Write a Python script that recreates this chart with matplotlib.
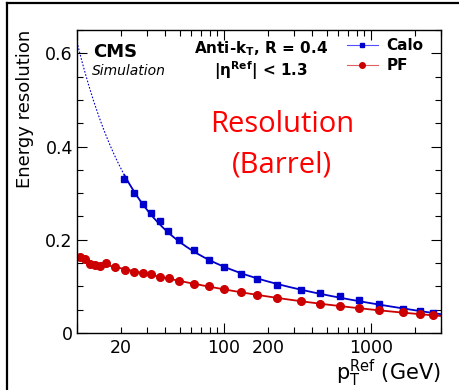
import numpy as np
import matplotlib
matplotlib.use("Agg")
import matplotlib.pyplot as plt
from matplotlib.lines import Line2D

# Jet energy resolution vs reference pT, barrel (|eta| < 1.3), anti-kT R = 0.4
calo_pt = np.array([21, 24.5, 28, 31.7, 36.7, 41.6, 49.6, 62.5, 79, 100.5, 130.5,
                    167.6, 230, 335, 450, 615, 832, 1133, 1643, 2155, 2653])
calo_res = np.array([0.3295, 0.3008, 0.2772, 0.2566, 0.2394, 0.218, 0.1987, 0.178,
                     0.157, 0.1415, 0.1265, 0.115, 0.102, 0.0915, 0.0857, 0.0787,
                     0.070, 0.0615, 0.0514, 0.0465, 0.0435])

pf_pt = np.array([10.4, 11.4, 12.3, 13.3, 14.3, 15.8, 18.2, 21.2, 24.5, 28, 31.9,
                  36.9, 42, 49.6, 62.5, 78.7, 100.5, 130.5, 167.6, 230, 335, 450,
                  615, 832, 1133, 1643, 2155, 2653])
pf_res = np.array([0.1636, 0.158, 0.1486, 0.1458, 0.1443, 0.1494, 0.1421, 0.1357,
                   0.1314, 0.1286, 0.1265, 0.120, 0.1179, 0.1121, 0.1057, 0.1014,
                   0.095, 0.0885, 0.0815, 0.0744, 0.068, 0.0622, 0.0572, 0.053,
                   0.0487, 0.0444, 0.0401, 0.038])

x_ticks_major = [10, 100, 1000]
x_labels_major = ["", "100", "1000"]
x_ticks_minor = [20, 30, 40, 50, 60, 70, 80, 90, 200, 300, 400, 500, 600, 700,
                 800, 900, 2000, 3000]
x_labels_minor = ["20", "", "", "", "", "", "", "", "200", "", "", "", "", "",
                  "", "", "", ""]
y_ticks = [0, 0.2, 0.4, 0.6]
y_labels = ["0", "0.2", "0.4", "0.6"]

CALO = "#0000cc"
PF = "#cc0000"


def fit_resolution(x, y):
    """Fit sigma^2 = a/x^2 + b*x^(m-1) + c (scan m, linear LSQ for a, b, c)."""
    best = None
    for m in np.linspace(-1.0, 1.5, 501):
        A = np.column_stack([1.0 / x**2, x**(m - 1.0), np.ones_like(x)])
        w = 1.0 / y**2
        coef, *_ = np.linalg.lstsq(A * w[:, None], y**2 * w, rcond=None)
        model = A @ coef
        if np.any(model <= 0):
            continue
        cost = np.sum(((np.sqrt(model) - y) / y) ** 2)
        if best is None or cost < best[0]:
            best = (cost, m, coef)
    _, m, (a, b, c) = best
    return lambda t: np.sqrt(np.clip(a / t**2 + b * t**(m - 1.0) + c, 0, None))


fig = plt.figure(figsize=(4.6, 3.9), dpi=100)
ax = fig.add_axes([77 / 460, 57 / 390, 364 / 460, 303 / 390])
ax.set_xscale("log")
ax.set_xlim(10, 3000)
ax.set_ylim(0, 0.65)

calo_fit = fit_resolution(calo_pt, calo_res)
pf_fit = fit_resolution(pf_pt, pf_res)

x0, x1 = ax.get_xlim()
t_low = np.geomspace(x0, calo_pt[0], 60)
t_high = np.geomspace(calo_pt[0], x1 * 0.985, 200)
t_all = np.geomspace(x0, x1 * 0.985, 300)

ax.plot(t_low, calo_fit(t_low), color=CALO, lw=0.8, ls=(0, (1.5, 1.5)))
ax.plot(t_high, calo_fit(t_high), color=CALO, lw=1.3)
ax.plot(t_all, pf_fit(t_all), color=PF, lw=1.3)

ax.plot(calo_pt, calo_res, ls="none", marker="s", ms=5, color=CALO, mec=CALO)
ax.plot(pf_pt, pf_res, ls="none", marker="o", ms=5.5, color=PF, mec=PF)

# axes styling
for s in ax.spines.values():
    s.set_linewidth(1.0)
ax.set_xticks(x_ticks_major, x_labels_major)
ax.set_xticks(x_ticks_minor, x_labels_minor, minor=True)
ax.set_yticks(y_ticks, y_labels)
ax.set_yticks(np.arange(0, 0.651, 0.05), minor=True)
ax.tick_params(which="both", direction="in", top=True, right=True,
               labelsize=12.5, width=0.8)
ax.tick_params(which="major", length=7)
ax.tick_params(which="minor", length=4)
ax.tick_params(axis="x", which="both", pad=4)
ax.tick_params(axis="y", which="both", pad=3)

ax.text(-0.143, 1.0, "Energy resolution", transform=ax.transAxes, rotation=90,
        ha="center", va="top", fontsize=13)
ax.text(1.0, -0.155, r"$\mathregular{p_T^{Ref}}$ (GeV)", transform=ax.transAxes,
        ha="right", va="baseline", fontsize=15)

ax.text(0.044, 0.911, "CMS", transform=ax.transAxes, fontsize=13,
        fontweight="bold", va="baseline")
ax.text(0.041, 0.851, "Simulation", transform=ax.transAxes, fontsize=10,
        style="italic", va="baseline")
ax.text(0.5055, 0.924, r"Anti-k$_{\mathbf{T}}$, R = 0.4", transform=ax.transAxes,
        fontsize=11, fontweight="bold", ha="center", va="baseline")
ax.text(0.5055, 0.848, r"|η$^{\mathbf{Ref}}$| < 1.3", transform=ax.transAxes,
        fontsize=11, fontweight="bold", ha="center", va="baseline")

ax.text(0.563, 0.663, "Resolution", transform=ax.transAxes, fontsize=21,
        family="Open Sans", color="#ff0000", ha="center", va="baseline")
ax.text(0.563, 0.531, "(Barrel)", transform=ax.transAxes, fontsize=21,
        family="Open Sans", color="#ff0000", ha="center", va="baseline")

handles = [
    Line2D([], [], color="#5050ff", lw=0.8, marker="s", ms=3.5,
           mfc="#0000cc", mec="#0000cc"),
    Line2D([], [], color="#e06060", lw=0.8, marker="o", ms=4,
           mfc="#cc0000", mec="#cc0000"),
]
leg = ax.legend(handles, ["Calo", "PF"], loc="upper left",
                bbox_to_anchor=((347 - 77) / 364, (333 - 38) / 303),
                frameon=False, borderpad=0, borderaxespad=0,
                handlelength=2.0, handletextpad=0.6, labelspacing=0.35,
                prop={"weight": "bold", "size": 11})

# page border
fig.add_artist(Line2D([7 / 460, 7 / 460], [0, 1 - 3 / 390], color="black",
                      lw=1.6, transform=fig.transFigure))
fig.add_artist(Line2D([7 / 460, 1], [1 - 3 / 390, 1 - 3 / 390], color="black",
                      lw=1.6, transform=fig.transFigure))

fig.savefig("out.png", dpi=100)
